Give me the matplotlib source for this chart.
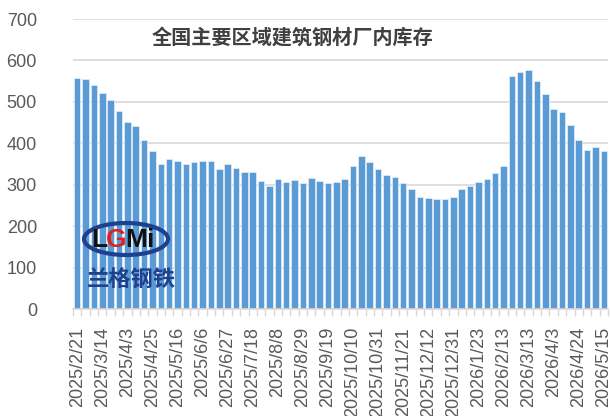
import numpy as np
import matplotlib.pyplot as plt
from matplotlib.patches import Ellipse

plt.rcParams['font.family'] = ['Liberation Sans', 'Noto Sans CJK SC', 'DejaVu Sans']

# weekly stock, 64 weeks
stock = [558, 554, 540, 522, 505, 478, 451, 441, 409, 382,
         350, 363, 357, 349, 354, 357, 357, 337, 351, 341,
         330, 330, 309, 298, 314, 307, 312, 304, 316, 308,
         304, 306, 314, 345, 369, 354, 337, 324, 318, 304,
         289, 271, 268, 266, 266, 271, 290, 298, 306, 313,
         328, 346, 562, 572, 577, 551, 518, 482, 476, 443,
         407, 385, 390, 382]
tick_labels = ['2025/2/21', '2025/3/14', '2025/4/3', '2025/4/25', '2025/5/16',
               '2025/6/6', '2025/6/27', '2025/7/18', '2025/8/8', '2025/8/29',
               '2025/9/19', '2025/10/10', '2025/10/31', '2025/11/21', '2025/12/12',
               '2025/12/31', '2026/1/23', '2026/2/13', '2026/3/13', '2026/4/3',
               '2026/4/24', '2026/5/15']
title = '全国主要区域建筑钢材厂内库存'

fig = plt.figure(figsize=(6.1, 4.16), dpi=100)
ax = fig.add_axes([73 / 610, 1 - 309 / 416, 535 / 610, 290 / 416])

x = np.arange(len(stock))
ax.bar(x, stock, width=0.78, color='#5B9BD5', edgecolor='#DDEBF7', linewidth=0.6, zorder=2)

ax.set_xlim(-0.5, len(stock) - 0.5)
ax.set_ylim(0, 700)
ax.set_yticks(range(0, 701, 100))
ax.yaxis.grid(True, color='#D9D9D9', linewidth=1.2, zorder=0)
ax.tick_params(axis='y', length=0, pad=26, labelsize=13, labelcolor='#595959')

ax.set_xticks(x[::3])
ax.set_xticklabels(tick_labels, rotation=90, fontsize=13, color='#595959')
ax.set_xticks(np.arange(-0.5, len(stock), 1), minor=True)
ax.tick_params(axis='x', which='major', length=0, pad=13)
ax.tick_params(axis='x', which='minor', length=5, color='#D9D9D9', width=1)

for s in ['top', 'right', 'left']:
    ax.spines[s].set_visible(False)
ax.spines['bottom'].set_color('#D9D9D9')
ax.spines['bottom'].set_linewidth(1.2)

fig.text(293 / 610, 1 - 37 / 416, title, ha='center', va='center',
         fontsize=14.5, color='#404040', fontweight='bold', family='Noto Sans CJK SC')

# watermark logo
ell = Ellipse((126 / 610, 1 - 239 / 416), 84 / 610, 32 / 416, transform=fig.transFigure,
              facecolor='none', edgecolor='#1F3F8F', linewidth=3, zorder=5)
fig.patches.append(ell)
renderer = fig.canvas.get_renderer()
lx = 91
for ch, col in zip('LGMi', ['#111111', '#E0201B', '#111111', '#111111']):
    t = fig.text(lx / 610, 1 - 240 / 416, ch, ha='left', va='center', fontsize=19,
                 fontweight='bold', color=col, zorder=6)
    lx += t.get_window_extent(renderer).width - 1
fig.text(131 / 610, 1 - 280 / 416, '兰格钢铁', ha='center', va='center', fontsize=16,
         color='#1F3F8F', fontweight='bold', family='Noto Sans CJK SC', zorder=6)

fig.savefig('out.png', dpi=100)
